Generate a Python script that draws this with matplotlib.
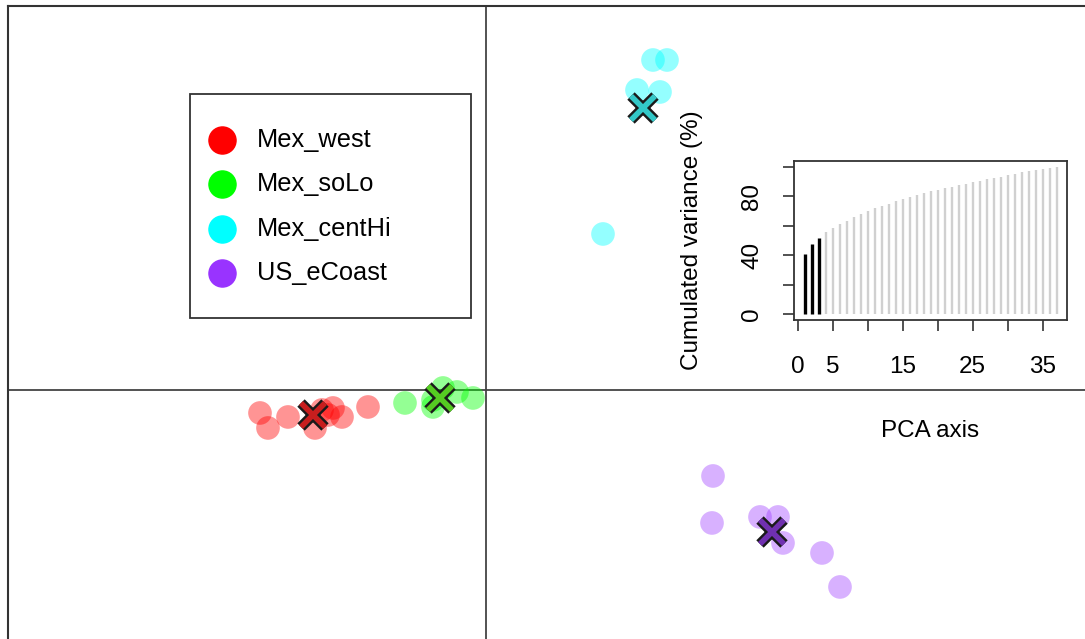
import matplotlib.pyplot as plt
from matplotlib.patches import Rectangle
import numpy as np

plt.rcParams['font.family'] = ['Liberation Sans', 'DejaVu Sans']

# group labels and colours
groups = ['Mex_west', 'Mex_soLo', 'Mex_centHi', 'US_eCoast']
colors = ['#FF0000', '#00FF00', '#00FFFF', '#9933FF']
cross_cols = ['#C81E1E', '#55CC22', '#33C8C8', '#7030B0']

# individual scores on the two discriminant axes
west_x = [-2.26, -2.18, -1.98, -1.71, -1.64, -1.53, -1.44, -1.18, -1.58]
west_y = [-0.23, -0.38, -0.27, -0.38, -0.20, -0.18, -0.27, -0.17, -0.25]
solo_x = [-0.81, -0.53, -0.43, -0.29, -0.13, -0.53]
solo_y = [-0.13, -0.10, 0.02, -0.02, -0.08, -0.17]
cent_x = [1.67, 1.81, 1.51, 1.74, 1.17]
cent_y = [3.30, 3.30, 3.00, 2.98, 1.56]
usec_x = [2.27, 2.26, 2.74, 2.92, 2.97, 3.36, 3.54]
usec_y = [-0.86, -1.33, -1.27, -1.27, -1.53, -1.63, -1.97]

# group centroids
cent_pts_x = [-1.73, -0.46, 1.57, 2.86]
cent_pts_y = [-0.25, -0.08, 2.82, -1.42]

# cumulated variance of retained PCA axes
pca_var = [40.5, 47.5, 52, 55.5, 58.5, 61, 63.5, 66, 68, 70, 72, 73.5,
           75, 76.5, 78, 79.5, 81, 82.5, 83.5, 84.5, 85.5, 86.5, 87.5,
           88.5, 89.5, 90.5, 91.5, 92.5, 93.3, 94.2, 95.2, 96.2, 97.2,
           98, 98.8, 99.5, 100]
n_retained = 3

W, H = 1085, 639
fig = plt.figure(figsize=(W / 100, H / 100), dpi=100)
ax = fig.add_axes([8 / W, -0.05, 1.0, 1.05 - 6 / H])
ax.set_xlim(-4.78, 6.07)
ax.set_ylim(-2.81, 3.84)
ax.set_xticks([])
ax.set_yticks([])
for s in ax.spines.values():
    s.set_color('#333333')
    s.set_linewidth(1.5)

ax.axhline(0, color='#444444', lw=1.3, zorder=1)
ax.axvline(0, color='#444444', lw=1.3, zorder=1)

xs = [west_x, solo_x, cent_x, usec_x]
ys = [west_y, solo_y, cent_y, usec_y]
alphas = [0.42, 0.42, 0.42, 0.38]
for gx, gy, c, a in zip(xs, ys, colors, alphas):
    ax.scatter(gx, gy, s=290, color=c, alpha=a, edgecolors='none', zorder=2)

# centroids: outlined crosses
for cx, cy, c in zip(cent_pts_x, cent_pts_y, cross_cols):
    ax.plot(cx, cy, marker='x', ms=17, mew=7.5, color='#1a1a1a', zorder=4)
    ax.plot(cx, cy, marker='x', ms=17, mew=4, color=c, zorder=5)

# legend box, laid out in figure pixels
def fx(px):
    return px / W

def fy(py):
    return 1 - py / H

fig.patches.append(Rectangle((fx(190), fy(318)), fx(471) - fx(190), fy(94) - fy(318),
                             transform=fig.transFigure, facecolor='white',
                             edgecolor='#333333', lw=1.3, zorder=6))
for i, (g, c) in enumerate(zip(groups, colors)):
    py = 140 + 44.3 * i
    fig.add_artist(plt.Line2D([fx(222)], [fy(py)], marker='o', ms=19.5, ls='',
                              color=c, transform=fig.transFigure, zorder=7))
    fig.text(fx(257), fy(py), g, fontsize=18.3, va='center', ha='left', zorder=7)

# inset: cumulated variance barplot
ins = fig.add_axes([794 / W, (H - 320) / H, 273 / W, 159 / H])
axis_idx = np.arange(1, len(pca_var) + 1)
bar_cols = ['black' if i <= n_retained else '#d0d0d0' for i in axis_idx]
bar_lw = [2.4 if i <= n_retained else 1.7 for i in axis_idx]
ins.vlines(axis_idx, 0, pca_var, colors=bar_cols, linewidths=bar_lw)
ins.set_xlim(-0.5, len(pca_var) + 1.5)
ins.set_ylim(-4, 104)
ins.set_xticks([0, 5, 10, 15, 20, 25, 30, 35])
ins.set_xticklabels(['0', '5', '', '15', '', '25', '', '35'])
ins.set_yticks([0, 20, 40, 60, 80, 100])
ins.set_yticklabels(['0', '', '40', '', '80', ''], rotation=90, va='center')
ins.tick_params(labelsize=17.5, length=8, width=1.2, color='#333333')
ins.tick_params(axis='x', pad=18)
ins.tick_params(axis='y', pad=14)
ins.spines['left'].set_visible(False)
ins.spines['bottom'].set_visible(False)
for s in ['top', 'right']:
    ins.spines[s].set_color('#333333')
    ins.spines[s].set_linewidth(1.3)
ins.plot([0, 0], [0, 1], transform=ins.transAxes, color='#333333', lw=1.3, clip_on=False)
ins.plot([0, 1], [0, 0], transform=ins.transAxes, color='#333333', lw=1.3, clip_on=False)
ins.set_ylabel('Cumulated variance (%)', fontsize=17.5, labelpad=28)
ins.set_xlabel('PCA axis', fontsize=17.5, labelpad=30)
ins.patch.set_alpha(0)

fig.savefig('out.png', dpi=100)
